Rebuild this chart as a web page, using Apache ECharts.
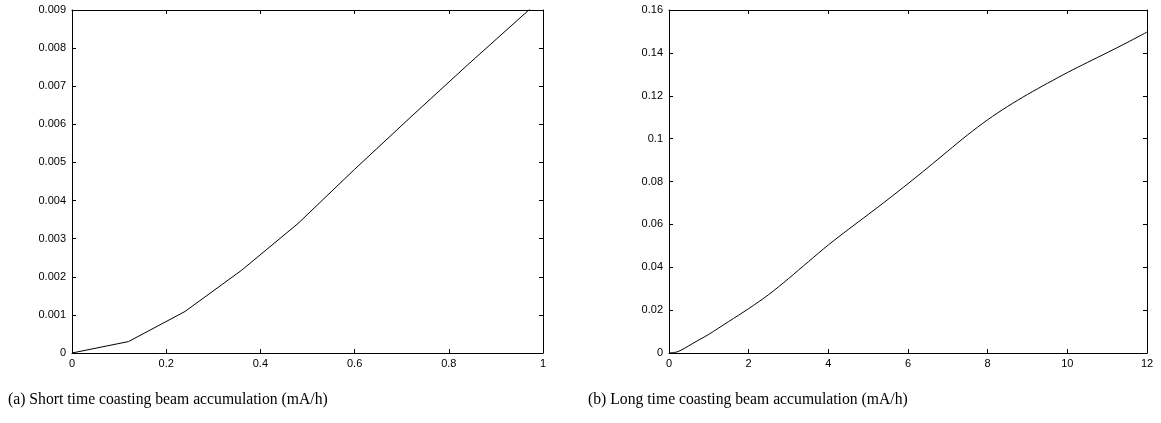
<!DOCTYPE html>
<html>
<head>
<meta charset="utf-8">
<script src="https://cdn.jsdelivr.net/npm/echarts@6/dist/echarts.min.js"></script>
<style>html,body{margin:0;padding:0;background:#fff}#c{width:1161px;height:423px}</style>
</head>
<body>
<div id="c"></div>
<script>
// Short time data (a)
const shortX = [0, 0.12, 0.24, 0.36, 0.48, 0.60, 0.72, 0.84, 0.96, 1.08];
const shortY = [0, 0.0003, 0.00109, 0.00217, 0.0034, 0.00482, 0.0062, 0.00756, 0.00889, 0.0102];
// Long time data (b)
const longX = [0, 0.2, 0.4, 0.6, 0.8, 1, 1.5, 2, 2.5, 3, 3.5, 4, 4.5, 5, 5.5, 6, 6.5, 7, 7.5, 8, 8.5, 9, 9.5, 10, 10.5, 11, 11.5, 12];
const longY = [0, 0.0005, 0.0023, 0.0045, 0.0066, 0.0087, 0.0147, 0.0207, 0.0272, 0.0347, 0.0426, 0.0504, 0.0576, 0.0646, 0.0717, 0.079, 0.0865, 0.0942, 0.1018, 0.1088, 0.115, 0.1206, 0.1258, 0.1308, 0.1355, 0.1401, 0.1448, 0.1497];
const captions = ["(a) Short time coasting beam accumulation (mA/h)", "(b) Long time coasting beam accumulation (mA/h)"];

const chart = echarts.init(document.getElementById('c'), null, {renderer: 'canvas'});
const lbl = {color: '#000', fontFamily: 'Liberation Sans', fontSize: 11};
const axLine = {show: true, onZero: false, lineStyle: {color: '#000', width: 1}};
const tick = {show: true, inside: true, length: 4, lineStyle: {color: '#000', width: 1}};

function xAx(gi, max, interval, top) {
  return {type: 'value', gridIndex: gi, min: 0, max: max, interval: interval, position: top ? 'top' : 'bottom',
    axisLine: axLine, axisTick: tick, splitLine: {show: false},
    axisLabel: top ? {show: false} : Object.assign({margin: 5}, lbl)};
}
function yAx(gi, max, interval, right) {
  return {type: 'value', gridIndex: gi, min: 0, max: max, interval: interval, position: right ? 'right' : 'left',
    axisLine: axLine, axisTick: tick, splitLine: {show: false},
    axisLabel: right ? {show: false} : Object.assign({margin: 6}, lbl)};
}

chart.setOption({
  backgroundColor: '#fff',
  animation: false,
  grid: [
    {left: 72, right: 618, top: 10, bottom: 70},
    {left: 669, right: 14, top: 10, bottom: 70}
  ],
  xAxis: [xAx(0, 1, 0.2, false), xAx(0, 1, 0.2, true), xAx(1, 12, 2, false), xAx(1, 12, 2, true)],
  yAxis: [yAx(0, 0.009, 0.001, false), yAx(0, 0.009, 0.001, true), yAx(1, 0.16, 0.02, false), yAx(1, 0.16, 0.02, true)],
  series: [
    {type: 'line', xAxisIndex: 0, yAxisIndex: 0, showSymbol: false, clip: true, data: shortX.map((x, i) => [x, shortY[i]]),
      lineStyle: {color: '#000', width: 1}},
    {type: 'line', xAxisIndex: 2, yAxisIndex: 2, showSymbol: false, smooth: 0.3, data: longX.map((x, i) => [x, longY[i]]),
      lineStyle: {color: '#000', width: 1}}
  ],
  graphic: [
    {type: 'text', left: 8, top: 392, style: {text: captions[0], fill: '#000', font: '15.7px "Liberation Serif"'}},
    {type: 'text', left: 588, top: 392, style: {text: captions[1], fill: '#000', font: '15.7px "Liberation Serif"'}}
  ]
});
</script>
</body>
</html>
